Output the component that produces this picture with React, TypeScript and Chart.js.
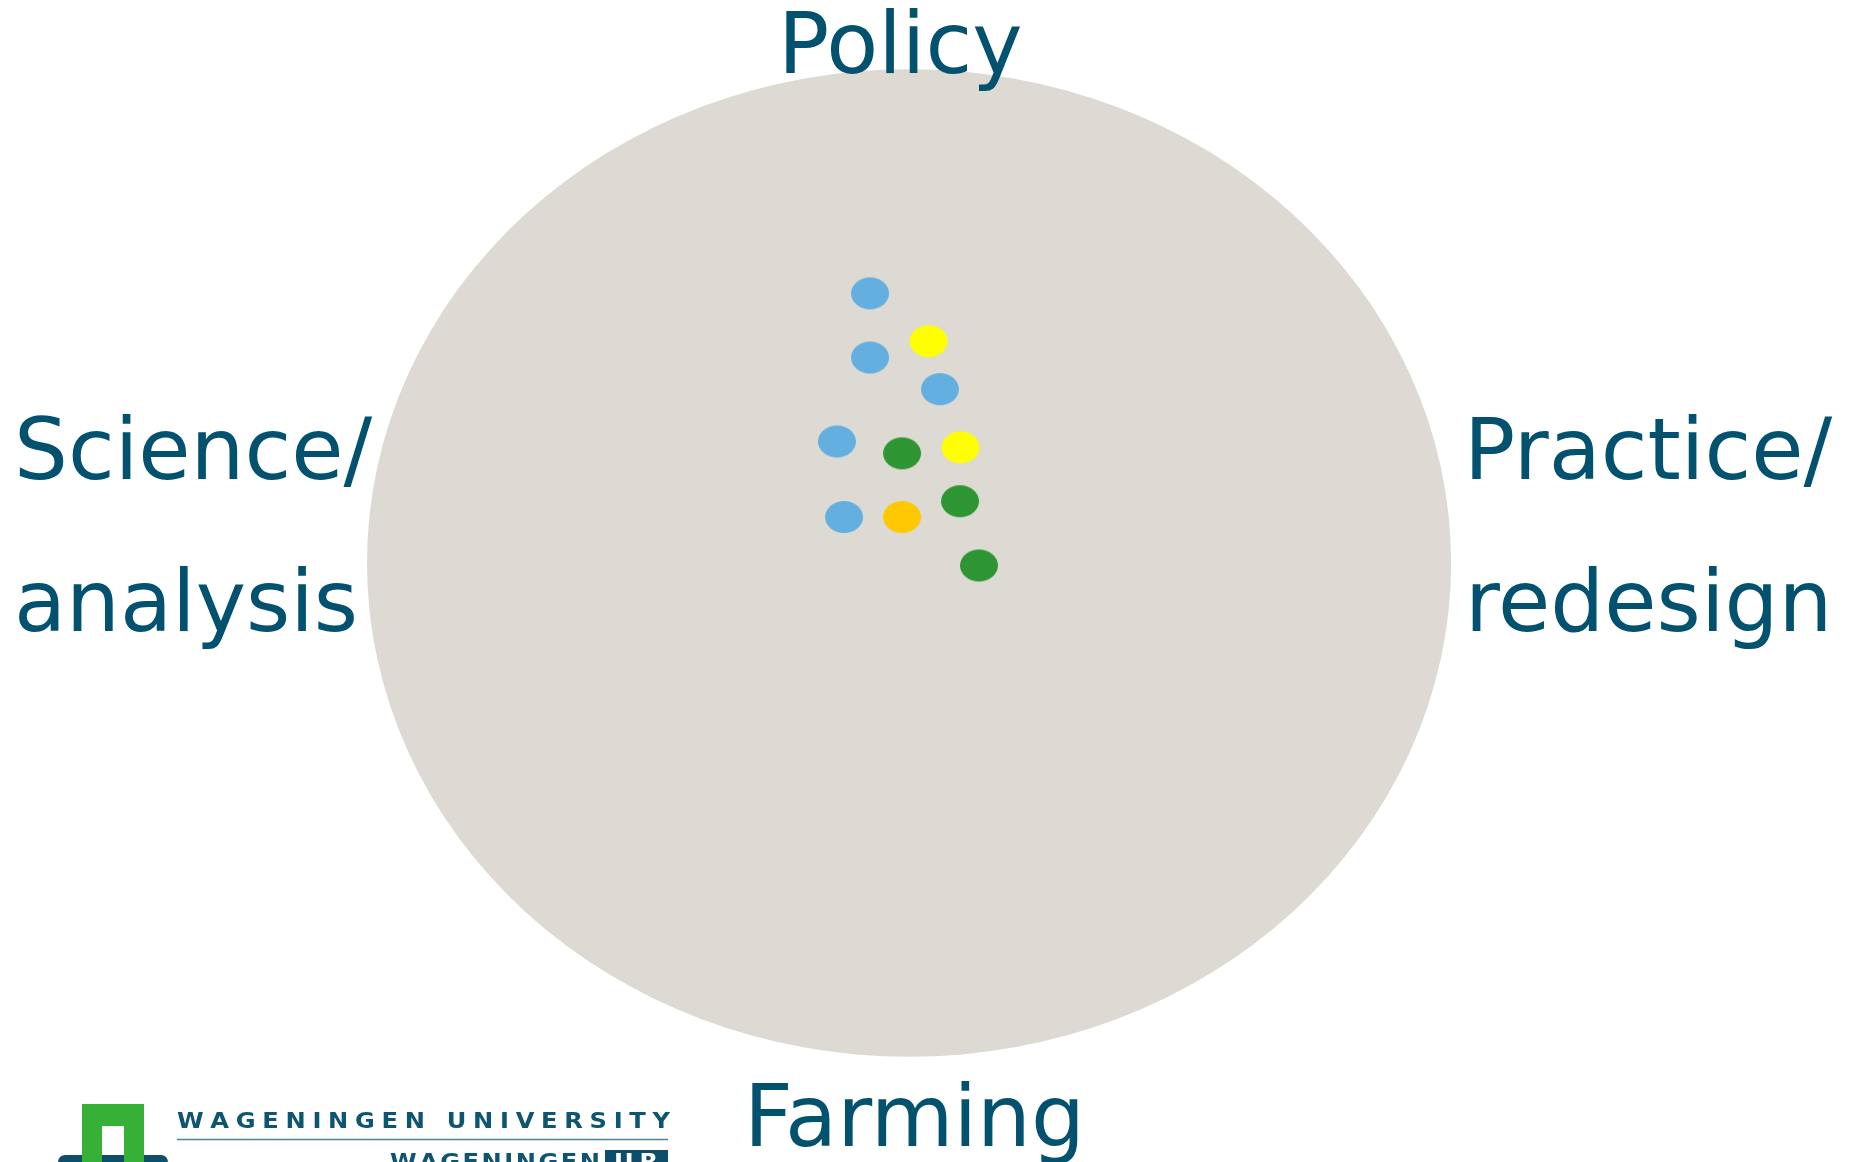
import React, { useEffect, useRef } from "react";
import { Chart, registerables } from "chart.js";

Chart.register(...registerables);

// Axis meaning: x from Science/analysis (-100) to Practice/redesign (+100),
// y from Farming (-100) to Policy (+100). The grey field is the unit ellipse (±100).
const blueX = [-7.2, -7.2, 5.7, -13.3, -12.0];
const blueY = [54.6, 41.6, 35.2, 24.6, 9.3];
const yellowX = [3.6, 9.5];
const yellowY = [44.9, 23.4];
const greenX = [-1.3, 9.4, 12.9];
const greenY = [22.2, 12.5, -0.5];
const orangeX = [-1.3];
const orangeY = [9.3];

const fieldRadius = 100;
const labelTop = "Policy";
const labelBottom = "Farming";
const labelLeft = ["Science/", "analysis"];
const labelRight = ["Practice/", "redesign"];
const logoLine1 = "WAGENINGEN UNIVERSITY";
const logoLine2 = "WAGENINGEN";
const logoBox = "UR";

const TEXT_COLOR = "#02516f";
const FIELD_COLOR = "#dcdad3";

function makeDot(color: string): HTMLCanvasElement {
  const c = document.createElement("canvas");
  c.width = 42;
  c.height = 36;
  const g = c.getContext("2d")!;
  g.fillStyle = color;
  g.beginPath();
  g.ellipse(21, 18, 19, 16, 0, 0, Math.PI * 2);
  g.fill();
  return c;
}

function pts(xs: number[], ys: number[]) {
  return xs.map((x, i) => ({ x, y: ys[i] }));
}

function drawSpaced(ctx: CanvasRenderingContext2D, text: string, x0: number, y: number, width: number, sx: number) {
  const chars = text.split("");
  const widths = chars.map((c) => ctx.measureText(c).width * sx);
  const sum = widths.reduce((a, b) => a + b, 0);
  const gap = (width - sum) / (chars.length - 1);
  let x = x0;
  chars.forEach((c, i) => {
    ctx.save();
    ctx.translate(x, y);
    ctx.scale(sx, 1);
    ctx.fillText(c, 0, 0);
    ctx.restore();
    x += widths[i] + gap;
  });
}

const fieldPlugin = {
  id: "field",
  beforeDatasetsDraw(chart: any) {
    const ctx = chart.ctx as CanvasRenderingContext2D;
    const xs = chart.scales.x;
    const ys = chart.scales.y;
    const cx = xs.getPixelForValue(0);
    const cy = ys.getPixelForValue(0);
    const rx = xs.getPixelForValue(fieldRadius) - cx;
    const ry = cy - ys.getPixelForValue(fieldRadius);
    ctx.save();
    ctx.fillStyle = FIELD_COLOR;
    ctx.beginPath();
    ctx.ellipse(cx, cy, rx, ry, 0, 0, Math.PI * 2);
    ctx.fill();
    ctx.restore();
  },
  afterDraw(chart: any) {
    const ctx = chart.ctx as CanvasRenderingContext2D;
    ctx.save();
    ctx.fillStyle = TEXT_COLOR;
    ctx.textBaseline = "alphabetic";
    ctx.textAlign = "left";
    ctx.font = '85px "DejaVu Sans"';
    ctx.fillText(labelTop, 778, 73);
    ctx.fillText(labelLeft[0], 14, 479);
    ctx.fillText(labelLeft[1], 14, 631);
    ctx.fillText(labelRight[0], 1464, 479);
    ctx.fillText(labelRight[1], 1465, 631);
    ctx.fillText(labelBottom, 744, 1146);

    // logo
    ctx.fillStyle = "#0d4f6b";
    ctx.beginPath();
    (ctx as any).roundRect(58, 1155, 110, 16, 7);
    ctx.fill();
    ctx.fillStyle = "#36b037";
    ctx.fillRect(82, 1104, 62, 22);
    ctx.fillRect(82, 1104, 20, 58);
    ctx.fillRect(124, 1104, 20, 58);

    ctx.fillStyle = "#0e5572";
    ctx.font = 'bold 21px "DejaVu Sans"';
    drawSpaced(ctx, logoLine1, 177, 1128, 493, 1.15);
    ctx.strokeStyle = "#4b88a0";
    ctx.lineWidth = 1.5;
    ctx.beginPath();
    ctx.moveTo(177, 1139.5);
    ctx.lineTo(668, 1139.5);
    ctx.stroke();
    drawSpaced(ctx, logoLine2, 390, 1169, 210, 1.15);
    ctx.fillStyle = "#0d4f6b";
    ctx.fillRect(605, 1150, 63, 14);
    ctx.fillStyle = "#ffffff";
    drawSpaced(ctx, logoBox, 614, 1169, 44, 1.15);
    ctx.restore();
  },
};

export default function App() {
  const ref = useRef<HTMLCanvasElement | null>(null);
  useEffect(() => {
    document.body.style.margin = "0";
    const canvas = ref.current!;
    const chart = new Chart(canvas, {
      type: "scatter",
      data: {
        datasets: [
          { label: "blue", data: pts(blueX, blueY), pointStyle: makeDot("#62afe0") as any },
          { label: "yellow", data: pts(yellowX, yellowY), pointStyle: makeDot("#ffff00") as any },
          { label: "green", data: pts(greenX, greenY), pointStyle: makeDot("#2e9533") as any },
          { label: "orange", data: pts(orangeX, orangeY), pointStyle: makeDot("#ffc800") as any },
        ],
      },
      options: {
        responsive: false,
        animation: false,
        layout: { padding: 0, autoPadding: false },
        plugins: { legend: { display: false }, tooltip: { enabled: false } },
        scales: {
          x: { type: "linear", display: false, min: -167.7, max: 173.4 },
          y: { type: "linear", display: false, min: -121.3, max: 114.0 },
        },
        elements: { point: { radius: 16 } },
      },
      plugins: [fieldPlugin],
    });
    return () => chart.destroy();
  }, []);
  return (
    <div style={{ width: 1849, height: 1162, background: "#ffffff" }}>
      <canvas ref={ref} width={1849} height={1162} style={{ display: "block" }} />
    </div>
  );
}
